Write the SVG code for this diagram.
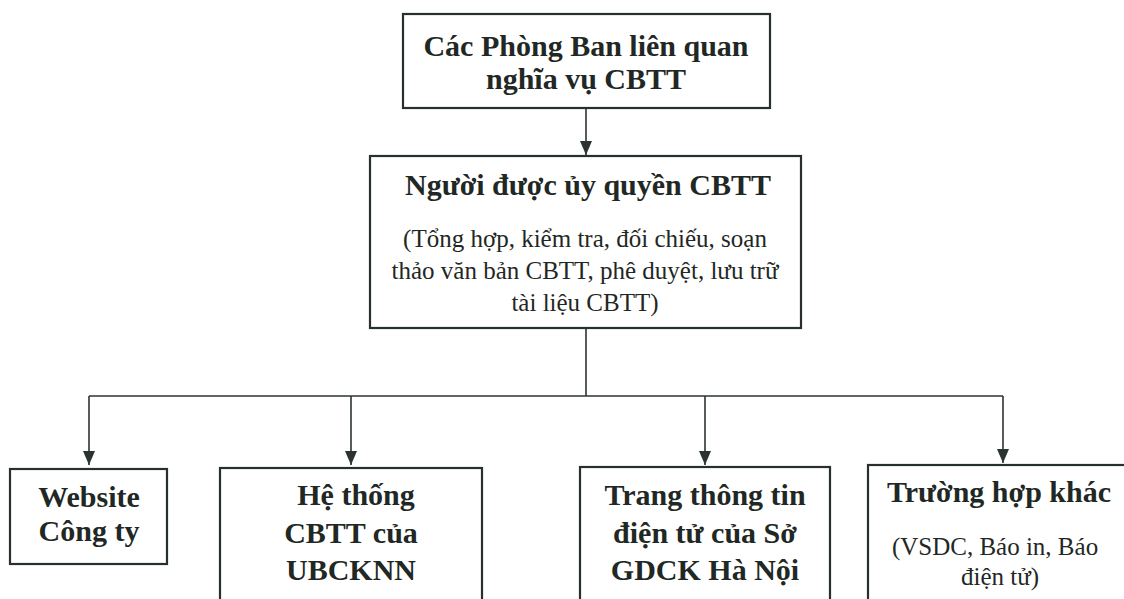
<svg xmlns="http://www.w3.org/2000/svg" width="1124" height="599" viewBox="0 0 1124 599">
<style>
.box{fill:#ffffff;stroke:#27302c;stroke-width:2.2}
.line{fill:none;stroke:#2b3430;stroke-width:1.6}
.b{font-family:"Liberation Serif","Times New Roman",serif;font-weight:bold;font-size:30px;fill:#1f2824;text-anchor:middle}
.r{font-family:"Liberation Serif","Times New Roman",serif;font-size:25px;fill:#1f2824;text-anchor:middle}
</style>
<defs>
<marker id="ah" markerUnits="userSpaceOnUse" markerWidth="16" markerHeight="14" refX="15" refY="7" orient="auto" viewBox="0 0 16 14">
<path d="M1,1 L15,7 L1,13 Z" fill="#2b3430"/>
</marker>
</defs>
<rect width="1124" height="599" fill="#ffffff"/>
<g id="connectors">
<line class="line" x1="586" y1="108" x2="586" y2="155" marker-end="url(#ah)"/>
<polyline class="line" points="586,328 586,396"/>
<polyline class="line" points="89,396 1003,396"/>
<line class="line" x1="89" y1="396" x2="89" y2="465" marker-end="url(#ah)"/>
<line class="line" x1="351" y1="396" x2="351" y2="465" marker-end="url(#ah)"/>
<line class="line" x1="705" y1="396" x2="705" y2="465" marker-end="url(#ah)"/>
<line class="line" x1="1003" y1="396" x2="1003" y2="463" marker-end="url(#ah)"/>
</g>
<g id="node-phongban">
<rect class="box" x="403" y="14" width="367" height="94"/>
<text class="b" x="586" y="56">Các Phòng Ban liên quan</text>
<text class="b" x="586" y="89">nghĩa vụ CBTT</text>
</g>
<g id="node-nguoiduocuyquyen">
<rect class="box" x="370" y="156" width="431" height="172"/>
<text class="b" x="588" y="195">Người được ủy quyền CBTT</text>
<text class="r" x="585" y="247">(Tổng hợp, kiểm tra, đối chiếu, soạn</text>
<text class="r" x="585" y="279">thảo văn bản CBTT, phê duyệt, lưu trữ</text>
<text class="r" x="585" y="311">tài liệu CBTT)</text>
</g>
<g id="node-website">
<rect class="box" x="10" y="469" width="157" height="95"/>
<text class="b" x="89" y="507">Website</text>
<text class="b" x="89" y="541">Công ty</text>
</g>
<g id="node-hethong">
<rect class="box" x="220" y="468" width="262" height="140"/>
<text class="b" x="356" y="505">Hệ thống</text>
<text class="b" x="351" y="543">CBTT của</text>
<text class="b" x="351" y="580">UBCKNN</text>
</g>
<g id="node-trangthongtin">
<rect class="box" x="580" y="467" width="250" height="140"/>
<text class="b" x="705" y="505">Trang thông tin</text>
<text class="b" x="705" y="543">điện tử của Sở</text>
<text class="b" x="705" y="580">GDCK Hà Nội</text>
</g>
<g id="node-truonghopkhac">
<rect class="box" x="868" y="465" width="270" height="145"/>
<text class="b" x="999" y="502">Trường hợp khác</text>
<text class="r" x="995" y="555">(VSDC, Báo in, Báo</text>
<text class="r" x="1000" y="585">điện tử)</text>
</g>
</svg>
